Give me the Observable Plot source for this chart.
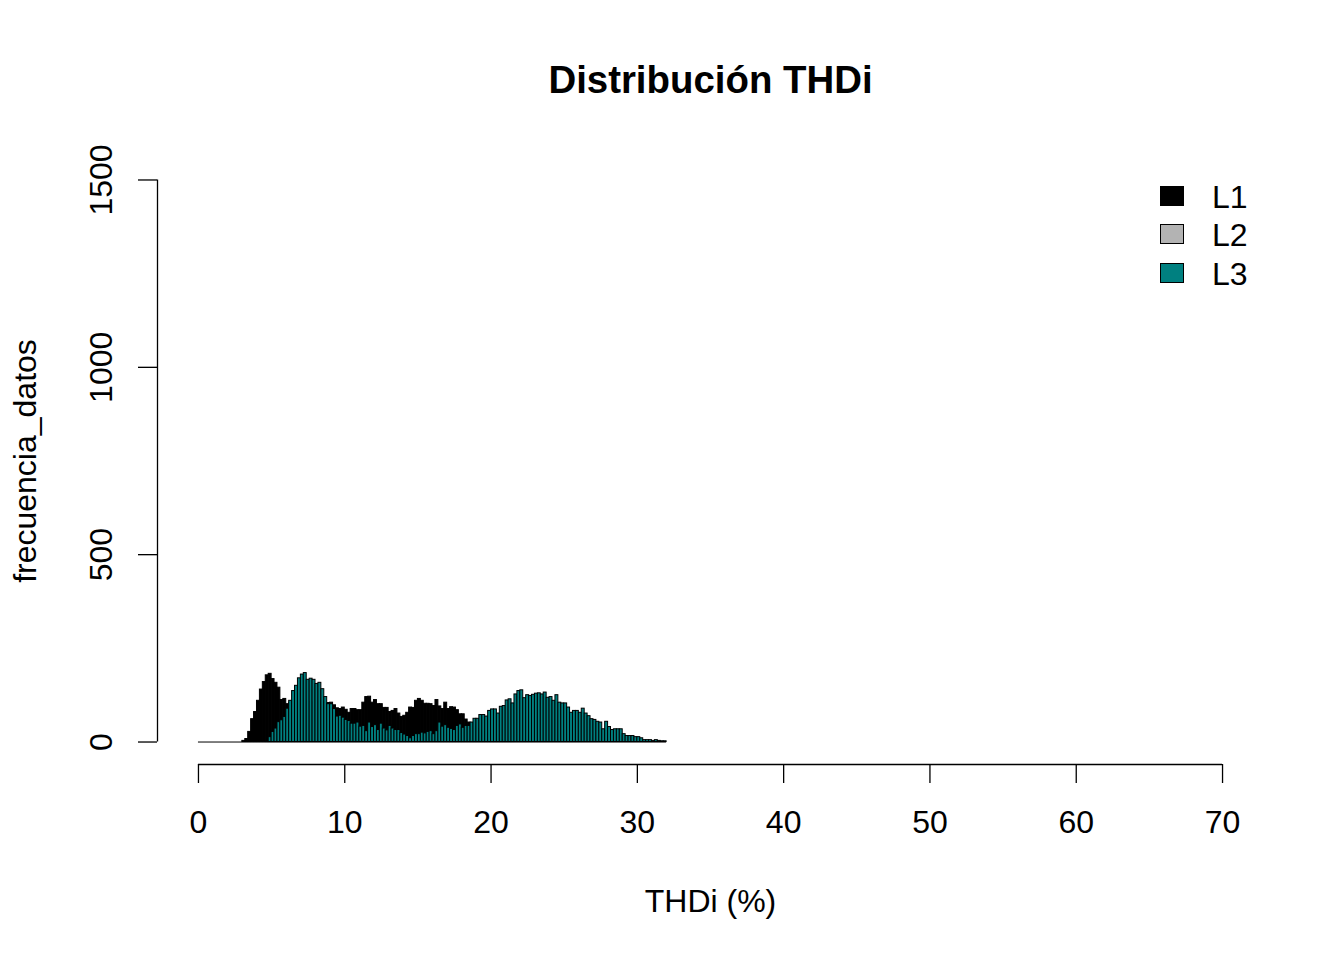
<!DOCTYPE html>
<html>
<head>
<meta charset="utf-8">
<script src="https://cdn.jsdelivr.net/npm/d3@7"></script>
<script src="https://cdn.jsdelivr.net/npm/@observablehq/plot@0.6"></script>
<style>
  html, body { margin: 0; padding: 0; background: #fff; }
  #wrap { position: relative; width: 1344px; height: 960px; font-family: "Liberation Sans", Arial, sans-serif; }
  #legend { position: absolute; left: 1160px; top: 178px; }
  .li { position: relative; height: 38.4px; }
  .sw { position: absolute; left: 0; top: 8px; width: 22px; height: 18px; border: 1.5px solid #000; }
  .lt { position: absolute; left: 52px; top: 0; font-size: 32px; line-height: 38px; color: #000; }
</style>
</head>
<body>
<div id="wrap"><div id="chart"></div><div id="legend"></div></div>
<script>
// ---- data ----
const title = "Distribución THDi";
const xLabel = "THDi (%)";
const yLabel = "frecuencia_datos";
const xTicks = [0, 10, 20, 30, 40, 50, 60, 70];
const yTicks = [0, 500, 1000, 1500];
const seriesNames = ["L1", "L2", "L3"];
const seriesColors = ["#000000", "#B3B3B3", "#008080"];
const binWidth = 0.2;   // histogram bins of 0.2 % from 0 to 32
const binCount = 160;

// L1 counts per bin (0.0, 0.2, ... 31.8)
const countsL1 = [
  0,0,0,0,0,0,0,0,0,0,0,0,0,0,0,
  3,8,27,61,80,110,140,160,178,182,
  168,158,145,112,115,101,104,106,108,110,
  108,110,105,107,104,108,103,106,100,104,
  105,98,90,88,92,86,78,88,88,85,
  85,105,120,121,105,112,101,101,91,91,
  80,83,88,76,67,70,78,92,91,110,
  115,110,102,102,101,96,112,95,88,105,
  88,93,92,85,74,74,60,52,45,40,
  35,30,26,22,18,14,10,8,5,3,
  2,1,1,0,0,0,0,0,0,0,
  0,0,0,0,0,0,0,0,0,0,
  0,0,0,0,0,0,0,0,0,0,
  0,0,0,0,0,0,0,0,0,0,
  0,0,0,0,0,0,0,0,0,0,
  0,0,0,0,0
];
// L3 counts per bin (L2 is fully hidden beneath L3 in the original)
const countsL3 = [
  0,0,0,0,0,0,0,0,0,0,0,0,0,0,0,0,0,0,0,0,0,0,0,0,
  13,27,36,53,58,67,89,110,136,150,170,180,184,166,169,166,155,158,141,120,101,101,88,68,70,65,
  59,56,49,49,52,41,43,29,52,40,
  45,32,49,36,31,43,36,32,32,24,
  20,16,10,16,21,21,25,23,27,29,
  21,29,52,41,45,38,35,32,43,47,
  38,43,43,52,62,62,72,72,68,83,
  87,87,76,94,96,111,114,103,127,136,
  138,117,125,123,126,129,130,127,132,118,
  120,110,125,105,103,103,92,78,83,83,
  78,89,76,69,61,59,54,52,34,54,
  40,32,34,34,34,21,16,16,16,13,
  13,10,5,5,5,3,5,3,2,2
];

function bins(counts) {
  return counts.map((c, i) => ({x1: i * binWidth, x2: (i + 1) * binWidth, y: c}));
}
const dataL1 = bins(countsL1);
const dataL3 = bins(countsL3);
const histEnd = binCount * binWidth;

const font = "Liberation Sans, Arial, sans-serif";

const chart = Plot.plot({
  width: 1344,
  height: 960,
  marginLeft: 157,
  marginRight: 81,
  marginTop: 157,
  marginBottom: 196,
  style: {fontFamily: font, background: "#fff", overflow: "visible", color: "#000"},
  x: {domain: [-2.8, 72.8], axis: null},
  y: {domain: [-60, 1560], axis: null},
  marks: [
    // zero-height bars appear as the baseline
    Plot.ruleY([0], {x1: 0, x2: histEnd, stroke: "#000", strokeWidth: 1}),
    Plot.rectY(dataL1.filter(d => d.y > 0), {x1: "x1", x2: "x2", y: "y", fill: seriesColors[0], stroke: "#000", strokeWidth: 1}),
    Plot.rectY(dataL3.filter(d => d.y > 0), {x1: "x1", x2: "x2", y: "y", fill: seriesColors[2], stroke: "#000", strokeWidth: 1}),
    // x axis
    Plot.ruleY([-60], {x1: xTicks[0], x2: xTicks[xTicks.length - 1], stroke: "#000", strokeWidth: 1.3}),
    Plot.axisX({ticks: xTicks, tickSize: 19, tickPadding: 27, fontSize: 32, label: null, anchor: "bottom", tickFormat: d => String(d), strokeWidth: 1.3}),
    // y axis
    Plot.ruleX([-2.8], {y1: yTicks[0], y2: yTicks[yTicks.length - 1], stroke: "#000", strokeWidth: 1.3}),
    Plot.axisY({ticks: yTicks, tickSize: 19, label: null, anchor: "left", tickFormat: () => "", strokeWidth: 1.3}),
    Plot.text(yTicks, {y: d => d, frameAnchor: "left", dx: -56, rotate: -90, textAnchor: "middle", lineAnchor: "middle", fontSize: 32, text: d => String(d), fill: "#000"}),
    // axis titles
    Plot.text([xLabel], {frameAnchor: "bottom", dy: 137, lineAnchor: "middle", fontSize: 32, text: d => d, fill: "#000"}),
    Plot.text([yLabel], {frameAnchor: "left", dx: -132, rotate: -90, textAnchor: "middle", lineAnchor: "middle", fontSize: 32, text: d => d, fill: "#000"}),
    // main title
    Plot.text([title], {frameAnchor: "top", dy: -77, lineAnchor: "middle", fontSize: 38.4, fontWeight: "bold", text: d => d, fill: "#000"})
  ]
});
document.getElementById("chart").appendChild(chart);

// legend
const legend = document.getElementById("legend");
seriesNames.forEach((name, i) => {
  const row = document.createElement("div");
  row.className = "li";
  const sw = document.createElement("div");
  sw.className = "sw";
  sw.style.background = seriesColors[i];
  const lt = document.createElement("div");
  lt.className = "lt";
  lt.textContent = name;
  row.appendChild(sw);
  row.appendChild(lt);
  legend.appendChild(row);
});
</script>
</body>
</html>
